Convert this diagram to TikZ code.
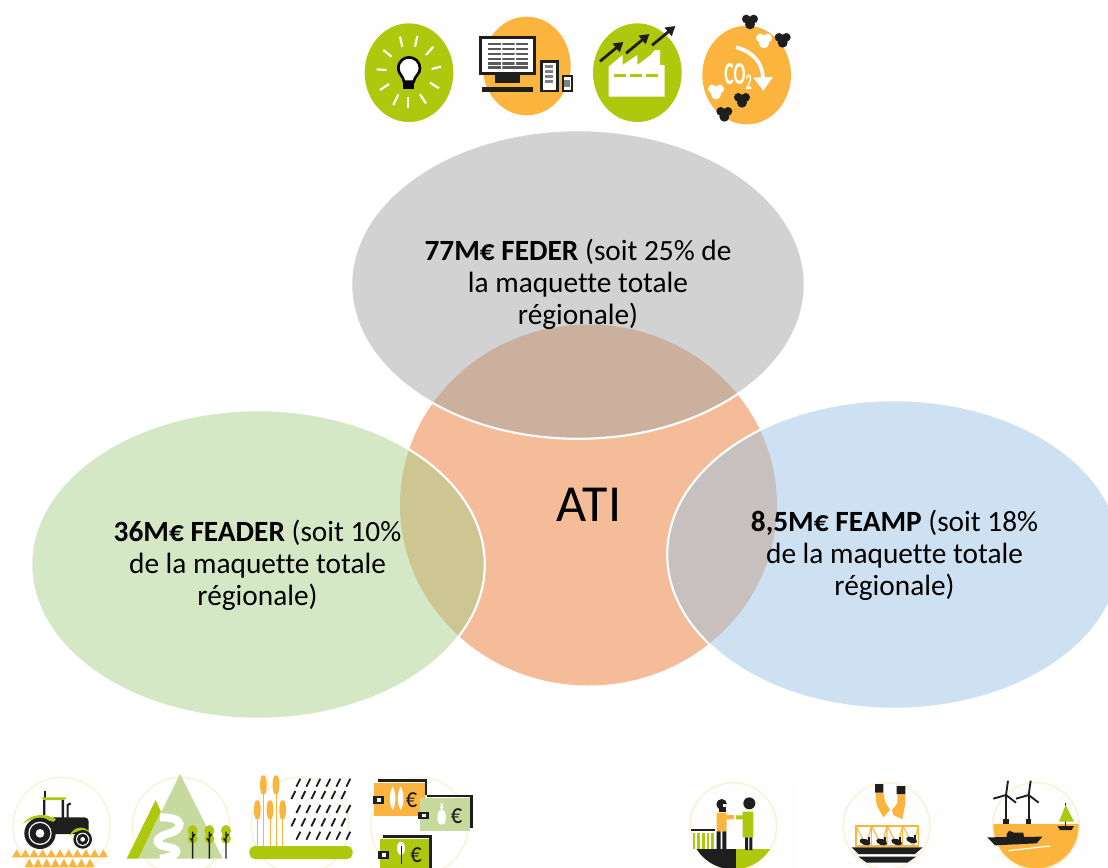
\documentclass[tikz,border=0pt]{standalone}
\usepackage{fontspec}
\setmainfont[Ligatures=NoCommon]{Carlito}
\usetikzlibrary{arrows.meta}
\definecolor{igreen}{HTML}{AEC80E}
\definecolor{iorange}{HTML}{FBB53F}
\definecolor{ipale}{HTML}{C6DA9E}
\definecolor{iring}{HTML}{FBF1D6}
\definecolor{iblack}{HTML}{1E1E1E}
\definecolor{ifaint}{HTML}{FEFEFE}
\definecolor{cgray}{HTML}{A5A5A5}
\definecolor{cgreen}{HTML}{A9D18E}
\definecolor{cblue}{HTML}{9DC3E6}
\definecolor{cati}{HTML}{F4BC98}
\tikzset{
  bubble/.style={draw=white,line width=1.6pt,fill opacity=.5},
  lab/.style={align=center,inner sep=0pt,font=\fontsize{22pt}{24pt}\selectfont},
  zoomed/.style={x=.25pt,y=-.25pt},
  ring/.style={draw=iring,line width=1.1pt},
  slash/.style={iblack,line width=1.4pt},
  ray/.style={white,line width=1.6pt},
  frame/.style={draw=iblack,line width=1.9pt},
  euro/.style={iblack,inner sep=0pt,font=\fontsize{21pt}{21pt}\selectfont,xscale=.8},
}
\newcommand{\blob}[3]{\fill[#3] (#1-11,#2-8) circle[radius=13] (#1+11,#2-8) circle[radius=13] (#1,#2+8) circle[radius=15];}
\begin{document}
\begin{tikzpicture}[x=.75pt,y=-.75pt]
\useasboundingbox (0,0) rectangle (1108,868);
\clip (0,0) rectangle (1108,868);
% ---- top icons
\begin{scope}[shift={(340,0)},zoomed]
\fill[ifaint] (32,50) rectangle (356,382) (380,12) rectangle (730,380) (752,58) rectangle (1064,380) (1070,38) rectangle (1388,380);
% bulb
\fill[igreen] (207,218) ellipse[x radius=133,y radius=148];
\foreach \a/\b/\c/\d in {180/110/187/140,232/108/225/140,280/140/258/165,130/150/155/170,110/208/140/210,303/200/275/207,120/270/147/252,297/265/270/248,175/283/160/315,240/283/258/310,205/290/205/325}
  \draw[ray] (\a,\b) -- (\c,\d);
\draw[black,fill=white,line width=2pt] (192,245) .. controls (190,228) and (175,222) .. (175,205) .. controls (175,183) and (192,172) .. (207,172) .. controls (224,172) and (240,185) .. (240,205) .. controls (240,222) and (224,228) .. (221,245) -- cycle;
\fill[black] (190,245) rectangle (223,268);
% screens
\fill[iorange] (560,198) ellipse[x radius=132,y radius=148];
\draw[frame,fill=white] (421,112) rectangle (583,220);
\foreach \y in {132,147,162,177,190,202} \fill[gray!70!black] (444,\y-4) rectangle (564,\y+4);
\fill[white] (483,125) rectangle (487,210) (524,125) rectangle (528,195);
\fill[iblack] (465,222) rectangle (540,248);
\fill[iblack] (425,262) rectangle (578,276);
\draw[frame,fill=white] (605,185) rectangle (652,273);
\foreach \y in {200,215,230,245} \fill[gray] (614,\y-4) rectangle (640,\y+4);
\draw[draw=iblack,line width=1.3pt,fill=white] (668,227) rectangle (695,274);
\fill[gray] (673,240) rectangle (690,262);
% factory
\fill[igreen] (892,218) ellipse[x radius=133,y radius=148];
\fill[white] (806,290) -- (806,200) -- (848,165) -- (848,195) -- (892,165) -- (892,195) -- (932,165) -- (945,150) -- (960,150) -- (960,195) -- (974,195) -- (974,290) -- cycle;
\foreach \a in {822,870,918} \fill[igreen] (\a,222) rectangle (\a+36,231);
\foreach \a/\b/\c/\d in {780/184/850/126,858/160/928/102,936/136/1006/78}
  \draw[iblack,line width=2.1pt,-{Triangle[length=7pt,width=8pt]}] (\a,\b) -- (\c,\d);
% CO2
\fill[iorange] (1220,225) ellipse[x radius=133,y radius=148];
\node[white,inner sep=0pt,font=\bfseries\fontsize{24pt}{24pt}\selectfont,xscale=.55] (co2) at (1195,230) {CO\textsubscript{2}};
\draw[white,line width=2.8pt,-{Triangle[length=10pt,width=14pt]}] (1188,142) .. controls (1240,155) and (1268,190) .. (1270,272);
\blob{1230}{65}{iblack}
\blob{1328}{120}{iblack}
\blob{1272}{122}{white}
\blob{1128}{275}{white}
\blob{1206}{300}{iblack}
\blob{1153}{342}{iblack}
\end{scope}
% ---- central diagram
\fill[cati] (588.5,505) ellipse[x radius=188.5,y radius=180.5];
\path[bubble,fill=cgray] (578,284.5) ellipse[x radius=226.8,y radius=154.3];
\path[bubble,fill=cgreen] (258,564.5) ellipse[x radius=226.8,y radius=154.3];
\path[bubble,fill=cblue] (894,554.5) ellipse[x radius=226.8,y radius=154.3];
\node[lab] (feder) at (578,284.7) {\textbf{77M€ FEDER} (soit 25\% de\\la maquette totale\\régionale)};
\node[lab] (feader) at (257.5,565.7) {\textbf{36M€ FEADER} (soit 10\%\\de la maquette totale\\régionale)};
\node[lab] (feamp) at (894.5,555.7) {\textbf{8,5M€ FEAMP} (soit 18\%\\de la maquette totale\\régionale)};
\node[inner sep=0pt,font=\fontsize{39pt}{39pt}\selectfont] (ati) at (589,505) {ATI};
% ---- bottom-left icons
\begin{scope}[shift={(0,760)},zoomed]
\draw[ring] (185,198) circle[radius=146];
\draw[ring] (543,198) circle[radius=146];
\draw[ring] (900,198) circle[radius=146];
\draw[ring] (1258,198) circle[radius=146];
% tractor
\foreach \a in {50,76,...,310} \fill[iorange] (\a-14,292) -- (\a,268) -- (\a+14,292) -- cycle;
\foreach \a in {88,114,...,270} \fill[iorange] (\a-14,322) -- (\a,296) -- (\a+14,322) -- cycle;
\fill[iblack] (133,92) rectangle (137,114);
\fill[igreen] (125,112) -- (200,112) -- (192,120) -- (130,120) -- cycle;
\fill[iblack] (129,120) rectangle (136,165) (185,120) rectangle (192,180);
\draw[iblack,line width=1.6pt] (203,178) -- (203,135) -- (212,130);
\fill[iblack,rounded corners=3pt] (150,172) rectangle (266,222);
\fill[igreen] (68,192) .. controls (90,160) and (140,158) .. (168,178) -- (160,186) .. controls (130,170) and (95,172) .. (68,192);
\fill[igreen] (208,228) .. controls (220,200) and (250,195) .. (268,215) -- (260,220) .. controls (245,208) and (225,212) .. (208,228);
\fill[iblack] (120,220) circle[radius=47];
\fill[white] (120,220) circle[radius=35];
\fill[iblack] (120,220) circle[radius=31];
\fill[white] (120,220) circle[radius=13];
\fill[iblack] (248,238) circle[radius=28];
\fill[white] (248,238) circle[radius=20];
\fill[iblack] (248,238) circle[radius=17];
\fill[white] (248,238) circle[radius=7];
% mountain
\fill[ipale] (540,42) -- (668,296) -- (415,296) -- cycle;
\fill[igreen] (467,120) -- (483,155) -- (415,296) -- (380,296) -- cycle;
\draw[white,line width=6pt] (480,172) .. controls (560,170) and (550,212) .. (500,222) .. controls (455,238) and (470,258) .. (510,262) .. controls (545,270) and (530,290) .. (480,296);
\foreach \a in {578,628,678} {
  \fill[igreen] (\a,212) ellipse[x radius=15,y radius=17];
  \fill[igreen] (\a,236) ellipse[x radius=15,y radius=15];
  \draw[iblack,line width=1.1pt] (\a,215) -- (\a,296) (\a,232) -- (\a+7,222) (\a,245) -- (\a-7,235);
}
% wheat and rain
\foreach \a/\t in {772/115,790/40,810/115,828/40,848/115} {
  \draw[iorange,line width=.7pt] (\a,\t+60) -- (\a,258);
  \fill[iorange,rounded corners=3pt] (\a,\t) -- (\a+10,\t+15) -- (\a+10,\t+55) -- (\a,\t+68) -- (\a-10,\t+55) -- (\a-10,\t+15) -- cycle;
}
\fill[igreen,rounded corners=4pt] (748,258) rectangle (1058,297);
\foreach \y/\s in {68/895,105/880,147/895,187/880,227/895}
  \foreach \i in {0,...,5}
    \draw[slash] (\s+\i*30-6,\y+12) -- (\s+\i*30+6,\y-12);
% money
\draw[frame] (1133,62) -- (1278,62) -- (1278,105);
\fill[iorange] (1122,70) rectangle (1275,168);
\fill[iblack] (1118,108) rectangle (1152,132);
\fill[white] (1130,115) rectangle (1142,125);
\foreach \a in {1178,1202} \fill[white] (\a,80) .. controls (\a+12,100) and (\a+10,135) .. (\a,150) .. controls (\a-10,135) and (\a-12,100) .. (\a,80);
\node[euro] (e1) at (1235,120) {€};
\draw[frame] (1280,108) -- (1414,108) -- (1414,205);
\fill[ipale] (1260,114) rectangle (1410,212);
\fill[iblack] (1255,155) rectangle (1288,178);
\fill[white] (1267,162) rectangle (1278,171);
\fill[white,rounded corners=3pt] (1313,150) rectangle (1337,194) (1320,130) rectangle (1330,152);
\node[euro] (e2) at (1370,168) {€};
\draw[frame] (1150,229) -- (1292,229) -- (1292,325);
\fill[igreen] (1140,236) rectangle (1288,335);
\fill[iblack] (1134,272) rectangle (1168,298);
\fill[white] (1146,280) rectangle (1157,290);
\fill[white] (1203,265) ellipse[x radius=12,y radius=20];
\draw[iblack,line width=.7pt] (1203,258) -- (1203,312);
\node[euro] (e3) at (1248,285) {€};
\end{scope}
% ---- bottom-right icons
\begin{scope}[shift={(670,760)},zoomed]
\fill[ifaint] (15,62) rectangle (385,324) (480,62) rectangle (820,324) (930,62) rectangle (1260,324);
\draw[ring] (190,198) circle[radius=130];
\draw[ring] (650,198) circle[radius=130];
% people
\begin{scope}
\clip (190,198) circle[radius=130];
\fill[iblack] (60,268) rectangle (198,340);
\fill[igreen] (198,268) rectangle (320,340);
\end{scope}
\fill[iorange] (140,158) rectangle (170,214) (170,165) rectangle (192,178);
\fill[iblack] (140,214) rectangle (152,270) (157,214) rectangle (169,270);
\fill[iblack] (155,133) circle[radius=16];
\fill[white] (158,131) rectangle (174,142);
\fill[iblack] (147,142) rectangle (168,156);
\fill[igreen] (218,155) rectangle (250,232) (198,166) rectangle (220,178);
\fill[iblack] (225,232) rectangle (234,270) (238,232) rectangle (247,270);
\fill[iblack] (238,130) circle[radius=18];
\fill[iblack] (62,208) rectangle (134,214);
\foreach \a in {72,86,100,114,128} \fill[igreen] (\a-4,220) rectangle (\a+4,268);
% hands and fish
\fill[iorange] (617,98) -- (640,98) -- (645,125) -- (660,150) -- (640,172) -- (622,140) -- (618,125) -- cycle;
\fill[iorange] (682,102) -- (706,102) -- (706,130) -- (697,178) -- (670,165) -- (666,150) -- (682,130) -- cycle;
\fill[iblack] (615,72) rectangle (640,98) (680,78) rectangle (706,102);
\draw[iorange,line width=.9pt] (558,198) rectangle (745,258);
\foreach \a in {558,605,652,699} \draw[iorange,line width=.8pt] (\a,198) -- (\a+30,258) (\a+46,198) -- (\a+46,258) (\a+46,198) -- (\a+30,258);
\foreach \a/\y in {585/246,635/246,680/246,725/240} {
  \fill[iblack,rotate around={-20:(\a,\y)}] (\a,\y) ellipse[x radius=17,y radius=9];
  \fill[iblack] (\a+8,\y-14) rectangle (\a+14,\y);
}
\fill[iblack] (545,262) -- (758,262) -- (735,282) -- (565,282) -- cycle;
\fill[iblack] (565,290) -- (738,290) -- (712,308) -- (590,308) -- cycle;
% sea
\begin{scope}
\clip (1098,198) circle[radius=130];
\fill[iorange] (960,192) rectangle (1240,340);
\end{scope}
\draw[ring] (1098,198) circle[radius=130];
\draw[white,line width=.9pt] (1015,272) -- (1140,258);
\foreach \a in {1008,1076} {
  \draw[iblack,line width=1.6pt] (\a,105) -- (\a,180);
  \fill[iblack] (\a-8,176) rectangle (\a+8,192);
  \draw[iblack,line width=1.4pt] (\a+6,62) -- (\a,105) -- (\a+30,128) (\a,105) -- (\a-38,116);
}
\fill[iblack] (952,232) -- (1117,230) -- (1100,250) -- (975,256) -- cycle;
\fill[iblack] (1010,222) -- (1018,212) -- (1032,218) -- (1060,218) -- (1062,232) -- (1010,232) -- cycle;
\draw[iblack,line width=1pt] (1187,128) -- (1187,198);
\fill[igreen] (1187,135) -- (1212,185) -- (1167,185) -- cycle;
\fill[iblack] (1162,198) -- (1212,198) -- (1205,210) -- (1170,210) -- cycle;
\end{scope}
\end{tikzpicture}
\end{document}
